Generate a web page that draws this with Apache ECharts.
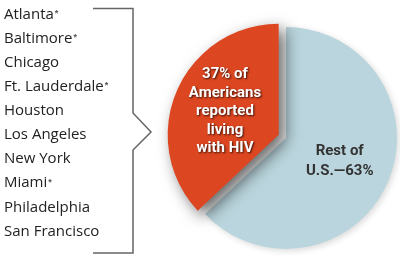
<!DOCTYPE html>
<html><head><meta charset="utf-8">
<script src="https://cdn.jsdelivr.net/npm/echarts@6/dist/echarts.min.js"></script>
<style>html,body{margin:0;padding:0;background:#fff}#c{width:400px;height:258px}</style>
</head><body><div id="c"></div>
<script>
const cities = ['Atlanta','Baltimore','Chicago','Ft. Lauderdale','Houston','Los Angeles','New York','Miami','Philadelphia','San Francisco'];
const starred = [true, true, false, true, false, false, false, true, false, false];
const sliceNames = ['Rest of\nU.S.\u201463%', '37% of\nAmericans\nreported\nliving\nwith HIV'];
const sliceValues = [63, 37];

const chart = echarts.init(document.getElementById('c'), null, {renderer:'canvas'});
const cityTexts = cities.map((c,i)=>({
  type:'text', left:4, top: 7 + i*24.1,
  style:{ text: c + (starred[i] ? '{s|*}' : ''), font:'15px "Open Sans"', fill:'#222',
    rich:{ s:{ fontSize:9, fontWeight:'bold', fill:'#555', padding:[0,0,2,1] } } }
}));
chart.setOption({
  animation:false,
  graphic:[
    ...cityTexts,
    { type:'polyline', shape:{ points:[[93,8.5],[133,8.5],[133,113],[151,132],[133,150],[133,253],[93,253]] },
      style:{ stroke:'#666', lineWidth:1.5, fill:null } }
  ],
  series:[{
    type:'pie', center:[286,138], radius:111, startAngle:90, clockwise:true,
    selectedMode:'single', selectedOffset:8,
    emphasis:{ disabled:true }, silent:true,
    labelLine:{show:false},
    data:[
      { value:sliceValues[0], name:sliceNames[0],
        itemStyle:{ color:'#bad5dd', shadowBlur:6, shadowColor:'rgba(0,0,0,0.15)', shadowOffsetX:2, shadowOffsetY:2 },
        label:{ show:true, position:'inside', color:'#333', fontFamily:'Roboto', fontWeight:'bold', fontSize:15, lineHeight:20 },
        labelLayout:{ dx:-6, dy:8 } },
      { value:sliceValues[1], name:sliceNames[1], selected:true,
        itemStyle:{ color:'#dc4620', shadowBlur:16, shadowColor:'rgba(0,0,0,0.6)', shadowOffsetX:6, shadowOffsetY:6 },
        label:{ show:true, position:'inside', color:'#fff', fontFamily:'Roboto', fontWeight:'bold', fontSize:15, lineHeight:18.5,
          textShadowColor:'rgba(0,0,0,0.75)', textShadowBlur:2, textShadowOffsetX:1, textShadowOffsetY:1 },
        labelLayout:{ dx:6, dy:-8 } }
    ],
    label:{ formatter:'{b}' }
  }]
});
</script></body></html>
